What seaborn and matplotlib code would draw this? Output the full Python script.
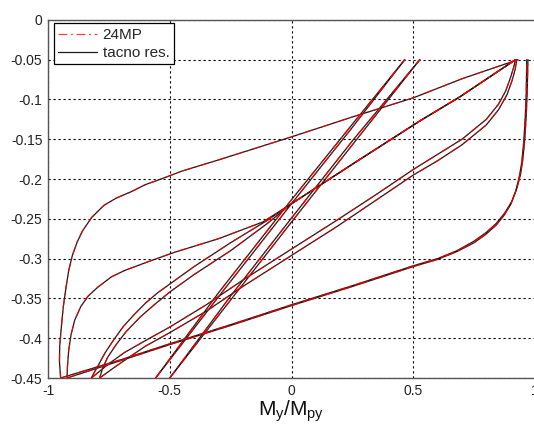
import numpy as np
import pandas as pd
import matplotlib
matplotlib.use("Agg")
import matplotlib.pyplot as plt
from matplotlib.lines import Line2D
import seaborn as sns

# ciklus 1 - gornja grana
x_c1u = [0.93, 0.7, 0.5, 0.25, 0.0, -0.3, -0.45, -0.536, -0.6, -0.659, -0.72, -0.77, -0.82, -0.858, -0.88, -0.9,
         -0.915, -0.926, -0.937, -0.945, -0.952, -0.953, -0.948]
y_c1u = [-0.05, -0.074, -0.098, -0.122, -0.147, -0.176, -0.19, -0.2, -0.207, -0.216, -0.224, -0.233, -0.248, -0.265,
         -0.279, -0.296, -0.315, -0.336, -0.36, -0.385, -0.41, -0.43, -0.45]
# ciklus 1 - donja grana
x_c1l = [-0.948, -0.7, -0.5, -0.25, 0.0, 0.25, 0.5, 0.6, 0.68, 0.75, 0.8, 0.84, 0.875, 0.905, 0.925, 0.94, 0.95,
         0.958, 0.964, 0.968, 0.971]
y_c1l = [-0.45, -0.427, -0.407, -0.383, -0.358, -0.334, -0.309, -0.3, -0.29, -0.278, -0.267, -0.256, -0.243, -0.228,
         -0.212, -0.195, -0.175, -0.15, -0.12, -0.09, -0.05]
# ciklus 2
x_c2u = [0.92, 0.69, 0.527, 0.267, 0.0, -0.118, -0.3, -0.48, -0.59, -0.686, -0.74, -0.796, -0.835, -0.865, -0.89,
         -0.905, -0.915, -0.92, -0.922]
y_c2u = [-0.05, -0.097, -0.127, -0.178, -0.231, -0.254, -0.275, -0.292, -0.304, -0.315, -0.323, -0.336, -0.347, -0.36,
         -0.377, -0.395, -0.415, -0.435, -0.45]
x_c2l = [-0.922, -0.7, -0.5, -0.25, 0.0, 0.25, 0.5, 0.6, 0.68, 0.75, 0.8, 0.84, 0.872, 0.9, 0.92, 0.935, 0.946,
         0.954, 0.96, 0.964, 0.966]
y_c2l = [-0.45, -0.428, -0.408, -0.384, -0.359, -0.335, -0.31, -0.301, -0.291, -0.28, -0.269, -0.258, -0.246, -0.232,
         -0.216, -0.198, -0.178, -0.152, -0.122, -0.09, -0.05]
# ciklus 3 i 4
x_c3u = [0.92, 0.69, 0.527, 0.267, 0.0, -0.1, -0.25, -0.4, -0.5, -0.55, -0.6, -0.645, -0.69, -0.73, -0.765, -0.79,
         -0.81, -0.822]
y_c3u = [-0.05, -0.097, -0.127, -0.178, -0.231, -0.252, -0.28, -0.31, -0.332, -0.343, -0.356, -0.37, -0.385, -0.402,
         -0.418, -0.432, -0.443, -0.45]
x_c3l = [-0.822, -0.75, -0.686, -0.6, -0.5, -0.35, -0.2, 0.0, 0.185, 0.35, 0.5, 0.6, 0.7, 0.8, 0.85, 0.88, 0.9,
         0.912, 0.92]
y_c3l = [-0.45, -0.432, -0.418, -0.403, -0.386, -0.358, -0.327, -0.288, -0.252, -0.219, -0.188, -0.169, -0.15, -0.125,
         -0.106, -0.089, -0.072, -0.06, -0.05]
x_c4u = [0.92, 0.69, 0.527, 0.267, 0.0, -0.1, -0.25, -0.4, -0.5, -0.56, -0.62, -0.68, -0.72, -0.755, -0.775, -0.788]
y_c4u = [-0.05, -0.097, -0.127, -0.178, -0.231, -0.256, -0.29, -0.32, -0.342, -0.357, -0.373, -0.392, -0.408, -0.424,
         -0.437, -0.45]
x_c4l = [-0.788, -0.72, -0.6, -0.5, -0.35, -0.2, 0.0, 0.185, 0.35, 0.5, 0.6, 0.7, 0.8, 0.85, 0.885, 0.905, 0.918,
         0.925]
y_c4l = [-0.45, -0.435, -0.41, -0.393, -0.366, -0.335, -0.296, -0.26, -0.226, -0.195, -0.177, -0.157, -0.132, -0.113,
         -0.094, -0.077, -0.063, -0.05]
# ciklus 5 i 6 (elasticne grane)
x_c5a = [-0.558, -0.3, 0.0, 0.25, 0.465]
y_c5a = [-0.45, -0.348, -0.231, -0.135, -0.05]
x_c5b = [-0.558, -0.3, 0.0, 0.25, 0.465]
y_c5b = [-0.45, -0.343, -0.226, -0.131, -0.05]
x_c6a = [-0.5, -0.25, 0.0, 0.25, 0.527]
y_c6a = [-0.45, -0.352, -0.254, -0.157, -0.05]
x_c6b = [-0.5, -0.25, 0.0, 0.25, 0.527]
y_c6b = [-0.45, -0.347, -0.249, -0.152, -0.05]

curves = [
    ("c1u", x_c1u, y_c1u), ("c1l", x_c1l, y_c1l),
    ("c2u", x_c2u, y_c2u), ("c2l", x_c2l, y_c2l),
    ("c3u", x_c3u, y_c3u), ("c3l", x_c3l, y_c3l),
    ("c4u", x_c4u, y_c4u), ("c4l", x_c4l, y_c4l),
    ("c5a", x_c5a, y_c5a), ("c5b", x_c5b, y_c5b),
    ("c6a", x_c6a, y_c6a), ("c6b", x_c6b, y_c6b),
]

rows = []
for name, xs, ys in curves:
    for i, (xv, yv) in enumerate(zip(xs, ys)):
        rows.append({"kriva": name, "i": i, "m": xv, "n": yv})
df = pd.DataFrame(rows)

sns.set_style("white")
plt.rcParams["font.family"] = ["Liberation Sans", "DejaVu Sans"]
plt.rcParams["axes.unicode_minus"] = False
plt.rcParams["mathtext.default"] = "regular"

fig = plt.figure(figsize=(5.34, 4.32), dpi=100)
ax = fig.add_axes([0.0899, 0.125, 0.912, 0.829])

dash_24mp = (0, (7, 3, 1.5, 3))

# tacno resenje
sns.lineplot(data=df, x="m", y="n", units="kriva", estimator=None, sort=False,
             color="#1a1a1a", linewidth=0.9, ax=ax, zorder=3)
# 24MP
sns.lineplot(data=df, x="m", y="n", units="kriva", estimator=None, sort=False,
             color="red", linewidth=0.9, linestyle=dash_24mp, alpha=0.75,
             ax=ax, zorder=4)

ax.set_xlim(-1, 1)
ax.set_ylim(-0.45, 0)
xt = [-1, -0.5, 0, 0.5, 1]
yt = [0, -0.05, -0.1, -0.15, -0.2, -0.25, -0.3, -0.35, -0.4, -0.45]
ax.set_xticks(xt)
ax.set_xticklabels([f"{v:g}" for v in xt])
ax.set_yticks(yt)
ax.set_yticklabels([f"{v:g}" for v in yt])
ax.tick_params(direction="in", length=4, width=0.8, labelsize=10,
               colors="#333333", labelcolor="#222222", pad=4)
ax.grid(True, color="black", linestyle=(0, (2, 2.5)), linewidth=0.8)
for s in ax.spines.values():
    s.set_color("#555555")
    s.set_linewidth(1.0)

ax.set_xlabel("M$_y$/M$_{py}$", fontsize=15, labelpad=1, color="#111111")
ax.set_ylabel("")

handles = [
    Line2D([], [], color="red", linewidth=0.9, linestyle=dash_24mp, alpha=0.75),
    Line2D([], [], color="#1a1a1a", linewidth=0.9),
]
leg = ax.legend(handles, ["24MP", "tacno res."], loc="upper left",
                bbox_to_anchor=(0.012, 0.99), borderaxespad=0, fontsize=11,
                handlelength=2.5, labelspacing=0.25, handletextpad=0.4,
                borderpad=0.3, fancybox=False, framealpha=1, edgecolor="black")
leg.get_frame().set_linewidth(0.9)

fig.savefig("out.png", dpi=100)
